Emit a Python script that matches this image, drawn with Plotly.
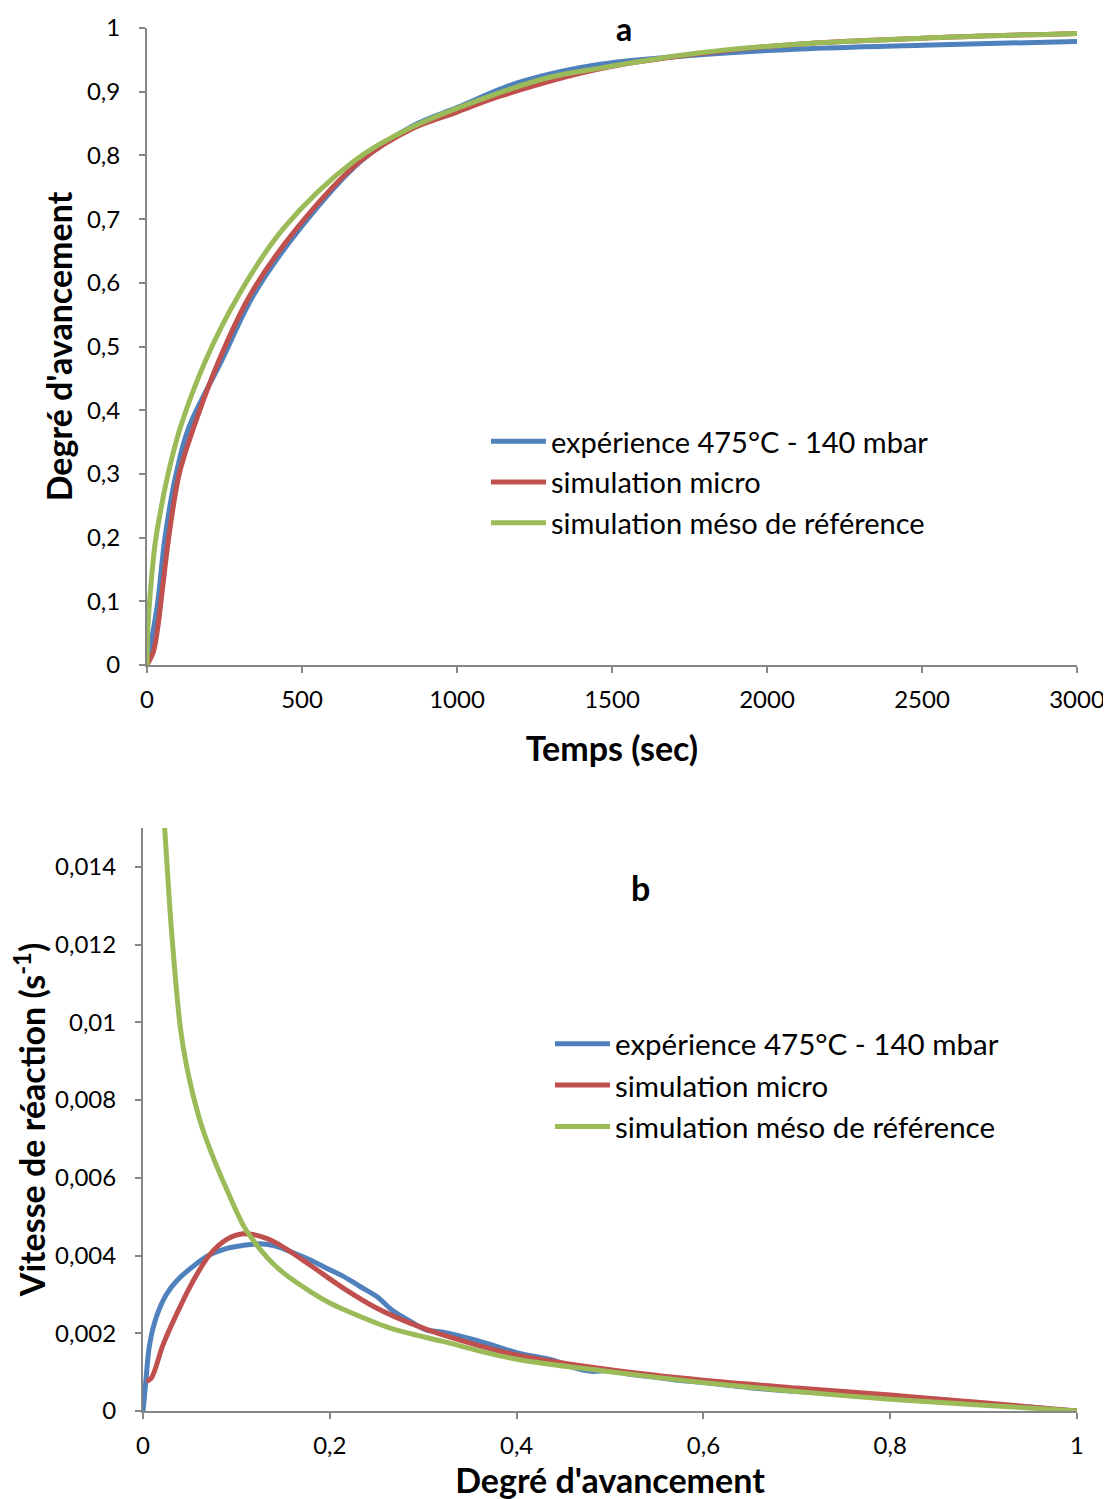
import plotly.graph_objects as go

# ---------- Data: chart a (Degré d'avancement vs Temps) ----------
t_exp = [0, 15, 35, 58, 94, 134, 240, 344, 495, 690, 860, 1000, 1139, 1215, 1461, 1784, 2106, 2500, 3000]
a_exp = [0, 0.04, 0.1, 0.2, 0.3, 0.372, 0.477, 0.581, 0.686, 0.791, 0.847, 0.875, 0.904, 0.917, 0.943, 0.958, 0.967, 0.973, 0.979]

t_micro = [0, 20, 35, 50, 70, 104, 150, 231, 333, 484, 688, 860, 1000, 1139, 1461, 1784, 2106, 2500, 3000]
a_micro = [0, 0.02, 0.06, 0.12, 0.2, 0.3, 0.372, 0.477, 0.581, 0.686, 0.791, 0.843, 0.868, 0.893, 0.936, 0.96, 0.975, 0.984, 0.9915]

t_meso = [0, 3, 10, 26, 45, 68, 107, 188, 296, 441, 667, 849, 1118, 1290, 1461, 1784, 2106, 2500, 3000]
a_meso = [0, 0.06, 0.11, 0.19, 0.245, 0.3, 0.372, 0.477, 0.581, 0.686, 0.791, 0.843, 0.895, 0.9215, 0.937, 0.961, 0.975, 0.984, 0.9915]

# ---------- Data: chart b (Vitesse de réaction vs Degré d'avancement) ----------
x_exp = [0, 0.003, 0.007, 0.014, 0.025, 0.0357, 0.0535, 0.0714, 0.0892, 0.107, 0.125, 0.143, 0.161, 0.178, 0.196, 0.214, 0.232, 0.25, 0.268, 0.286, 0.303, 0.321, 0.36, 0.4, 0.44, 0.46, 0.48, 0.5, 0.52, 0.55, 0.57, 0.6, 0.65, 0.7, 0.75, 0.8, 0.85, 0.9, 0.95, 0.98, 1.0]
v_exp = [0, 0.00076, 0.0017, 0.0024, 0.003, 0.00334, 0.00372, 0.00402, 0.00418, 0.00426, 0.0043, 0.00424, 0.00407, 0.0039, 0.00368, 0.00347, 0.00321, 0.00295, 0.00257, 0.00231, 0.00209, 0.00203, 0.0018, 0.0015, 0.0013, 0.00112, 0.00102, 0.00104, 0.00095, 0.00086, 0.0008, 0.00073, 0.0006, 0.0005, 0.00046, 0.00037, 0.0003, 0.00019, 0.0001, 0.00003, 0.0]

x_micro = [0.0036, 0.009, 0.0214, 0.0357, 0.0535, 0.0714, 0.0892, 0.107, 0.125, 0.143, 0.178, 0.214, 0.25, 0.286, 0.321, 0.4, 0.5, 0.6, 0.7, 0.8, 0.9, 1.0]
v_micro = [0.00076, 0.00085, 0.0017, 0.00248, 0.00334, 0.00402, 0.00441, 0.00456, 0.0045, 0.00432, 0.00377, 0.00317, 0.00265, 0.00226, 0.00196, 0.00144, 0.00106, 0.00079, 0.00059, 0.00041, 0.00021, 0.0]

x_meso = [0.012, 0.0232, 0.0303, 0.04, 0.0457, 0.0535, 0.0635, 0.0767, 0.092, 0.109, 0.134, 0.15, 0.18, 0.2, 0.218, 0.264, 0.321, 0.4, 0.5, 0.6, 0.7, 0.8, 0.9, 1.0]
v_meso = [0.019, 0.015, 0.01243, 0.00986, 0.009, 0.00814, 0.00728, 0.00643, 0.00557, 0.00471, 0.00392, 0.00356, 0.00306, 0.00278, 0.00258, 0.00214, 0.00179, 0.00133, 0.00101, 0.00073, 0.0005, 0.0003, 0.00015, 0.0]

names = ["expérience 475°C - 140 mbar", "simulation micro", "simulation méso de référence"]
colors = ["#4F81BD", "#C0504D", "#9BBB59"]

xa_vals = [0, 500, 1000, 1500, 2000, 2500, 3000]
xa_text = ["0", "500", "1000", "1500", "2000", "2500", "3000"]
ya_vals = [0, 0.1, 0.2, 0.3, 0.4, 0.5, 0.6, 0.7, 0.8, 0.9, 1]
ya_text = ["0", "0,1", "0,2", "0,3", "0,4", "0,5", "0,6", "0,7", "0,8", "0,9", "1"]
xb_vals = [0, 0.2, 0.4, 0.6, 0.8, 1]
xb_text = ["0", "0,2", "0,4", "0,6", "0,8", "1"]
yb_vals = [0, 0.002, 0.004, 0.006, 0.008, 0.01, 0.012, 0.014]
yb_text = ["0", "0,002", "0,004", "0,006", "0,008", "0,01", "0,012", "0,014"]

FONT = "Lato, 'Open Sans', sans-serif"
W, H = 1111, 1499
OFF = 8  # the page body adds an 8px margin; compensate


def px(v):
    return (v - OFF) / W


def py(v):
    return 1 - (v - OFF) / H


fig = go.Figure()
for xs, ys, nm, c in zip([t_exp, t_micro, t_meso], [a_exp, a_micro, a_meso], names, colors):
    fig.add_trace(go.Scatter(x=xs, y=ys, name=nm, mode="lines",
                             line=dict(color=c, width=5, shape="spline", smoothing=1.0),
                             xaxis="x", yaxis="y", legend="legend"))
for xs, ys, nm, c in zip([x_exp, x_micro, x_meso], [v_exp, v_micro, v_meso], names, colors):
    fig.add_trace(go.Scatter(x=xs, y=ys, name=nm, mode="lines",
                             line=dict(color=c, width=5, shape="spline", smoothing=0.9),
                             xaxis="x2", yaxis="y2", legend="legend2"))

axis_common = dict(showgrid=False, zeroline=False, showline=True, linecolor="#868686", linewidth=2,
                   ticks="outside", ticklen=6, tickwidth=2, tickcolor="#868686", automargin=False,
                   tickfont=dict(family=FONT, size=24, color="#000000"))
title_font = dict(size=34, family=FONT, color="#000000")

fig.update_layout(
    template="none",
    width=W, height=H,
    margin=dict(l=0, r=0, t=0, b=0, pad=0, autoexpand=False),
    paper_bgcolor="white", plot_bgcolor="white",
    font=dict(family=FONT, color="#000000"),
    xaxis=dict(domain=[px(147), px(1077)], range=[0, 3000], anchor="y",
               tickvals=xa_vals, ticktext=xa_text, ticklabelstandoff=6,
               title=dict(text="<b>Temps (sec)</b>", font=title_font, standoff=25),
               **axis_common),
    yaxis=dict(domain=[py(665), py(28)], range=[0, 1], anchor="x",
               tickvals=ya_vals, ticktext=ya_text, ticklabelstandoff=14,
               title=dict(text="<b>Degré d'avancement</b>", font=title_font, standoff=4),
               **axis_common),
    xaxis2=dict(domain=[px(143), px(1077)], range=[0, 1], anchor="y2",
                tickvals=xb_vals, ticktext=xb_text, ticklabelstandoff=6,
                title=dict(text="<b>Degré d'avancement</b>", font=title_font, standoff=11),
                **axis_common),
    yaxis2=dict(domain=[py(1411), py(828)], range=[0, 0.015], anchor="x2",
                tickvals=yb_vals, ticktext=yb_text, ticklabelstandoff=14,
                title=dict(text="<b>Vitesse de réaction (s<sup>-1</sup>)</b>", font=title_font, standoff=4),
                **axis_common),
    legend=dict(x=px(486), y=py(416), xanchor="left", yanchor="top",
                font=dict(size=29, family=FONT), bgcolor="rgba(0,0,0,0)", tracegroupgap=0, itemwidth=55),
    legend2=dict(x=px(550), y=py(1018), xanchor="left", yanchor="top",
                 font=dict(size=29.5, family=FONT), bgcolor="rgba(0,0,0,0)", tracegroupgap=0, itemwidth=55),
    annotations=[
        dict(text="<b>a</b>", x=px(624), y=1, xref="paper", yref="paper", showarrow=False,
             font=dict(size=32, family=FONT), xanchor="center", yanchor="top", borderpad=0),
        dict(text="<b>b</b>", x=px(640), y=py(887), xref="paper", yref="paper", showarrow=False,
             font=dict(size=34, family=FONT), xanchor="center", yanchor="middle"),
    ],
)

fig.write_html("out.html")
